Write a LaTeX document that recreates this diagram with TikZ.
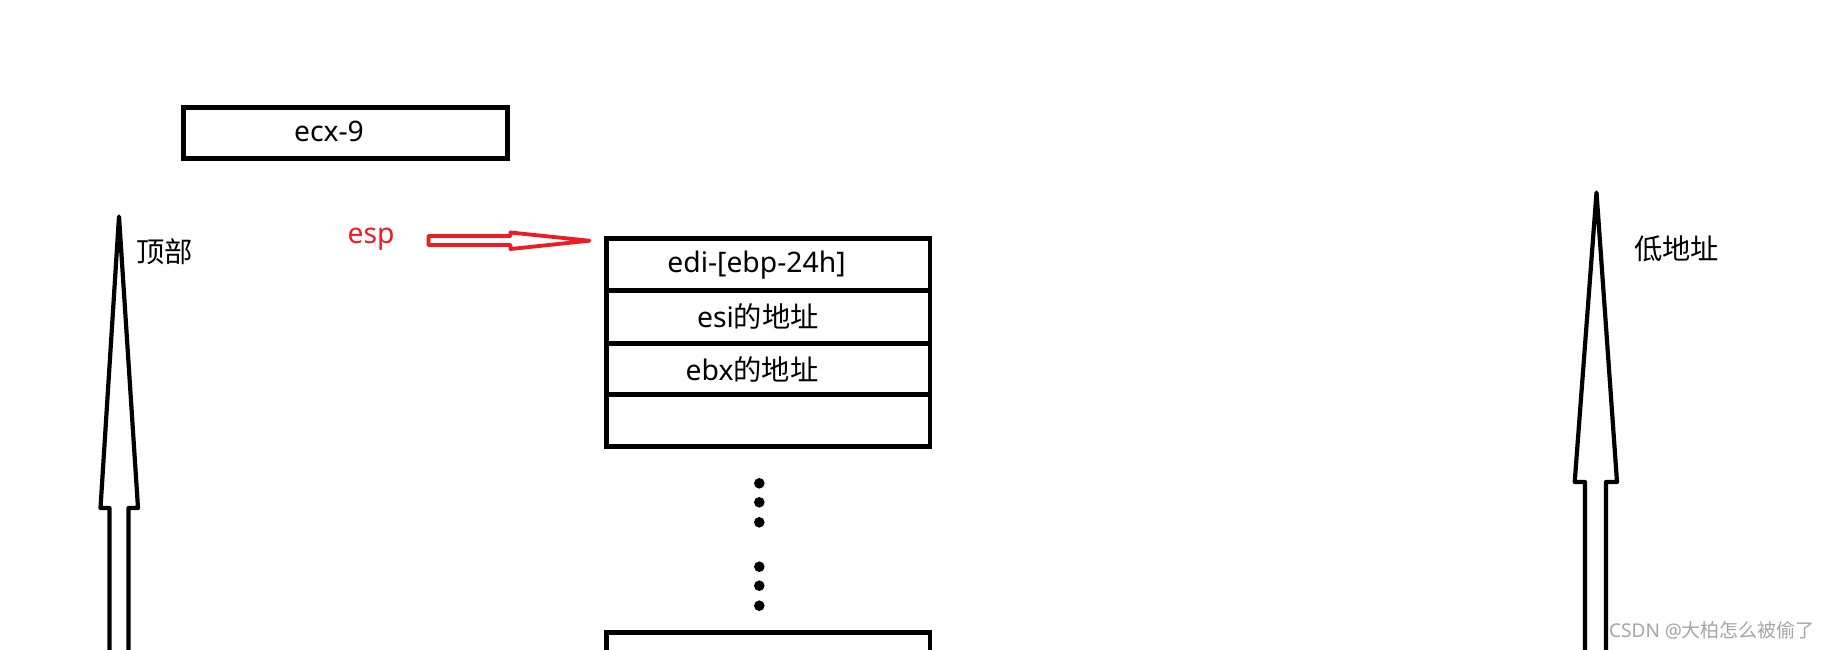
\documentclass[tikz,border=0pt]{standalone}
\usepackage{fontspec}
\setmainfont{Noto Sans}
\newfontfamily\cjk{Noto Sans CJK SC}
\definecolor{paintred}{RGB}{237,28,36}
\definecolor{wmgray}{RGB}{165,165,165}
\begin{document}
\begin{tikzpicture}[x=1pt,y=-1pt,
  box/.style={draw=black,line width=4.5pt},
  txt/.style={inner sep=0pt,font=\fontsize{28.3}{31}\selectfont},
  hollow/.style={draw=black,line width=4.2pt,line join=round,fill=white},
  redarrow/.style={draw=paintred,line width=3.8pt,line join=round},
  dotm/.style={circle,fill=black,inner sep=0pt,minimum size=10.6pt}]
\useasboundingbox (0,0) rectangle (1833,649);
\clip (0,0) rectangle (1833,649);
\fill[white] (0,0) rectangle (1833,649);

% ecx-9 box
\draw[box] (183.3,107.3) rectangle (507.7,158.3);
\node[txt,anchor=base] (ecx) at (329,141.7) {ecx-9};

% stack
\coordinate (stTL) at (606.7,238.3);
\draw[box] (606.7,238.3) rectangle (930,446.7);
\draw[box] (606.7,290.7) -- (930,290.7);
\draw[box] (606.7,343.3) -- (930,343.3);
\draw[box] (606.7,394.3) -- (930,394.3);
\draw[box] (606.7,700) -- (606.7,632.3) -- (930,632.3) -- (930,700);
\node[txt,anchor=base] (r1) at (756.5,272.7) {edi-[ebp-24h]};
\node[txt,anchor=base] (r2) at (758,327.7) {esi{\cjk 的地址}};
\node[txt,anchor=base] (r3) at (752,380) {ebx{\cjk 的地址}};

% dots
\foreach \i/\yy in {1/483.3,2/502.3,3/522.3,4/566.7,5/585.7,6/605.7}
  \node[dotm] (d\i) at (759.3,\yy) {};

% esp arrow
\node[txt,anchor=base,text=paintred] (esp) at (371,243) {esp};
\coordinate (redtip) at (589.5,240.7);
\draw[redarrow] (428.5,236) -- (510.5,236) -- (510.5,232.5) -- (redtip)
  -- (510.5,249) -- (510.5,245) -- (428.5,245) -- cycle;

% left hollow arrow
\coordinate (ltip) at (119,216.5);
\draw[hollow] (109.5,700) -- (109.5,508) -- (100.5,508) -- (ltip)
  -- (138,508) -- (128.5,508) -- (128.5,700);
\node[txt,anchor=base west] (top) at (136,262.5) {\cjk 顶部};

% right hollow arrow
\coordinate (rtip) at (1596.5,192.5);
\draw[hollow] (1585,700) -- (1585,482) -- (1574.7,482) -- (rtip)
  -- (1617,482) -- (1606,482) -- (1606,700);
\node[txt,anchor=base west] (low) at (1634,259) {\cjk 低地址};

% watermark
\node[inner sep=0pt,anchor=base west,text=wmgray,font=\fontsize{19}{21}\selectfont] (wm) at (1609,637) {CSDN @{\cjk 大柏怎么被偷了}};
\end{tikzpicture}
\end{document}
